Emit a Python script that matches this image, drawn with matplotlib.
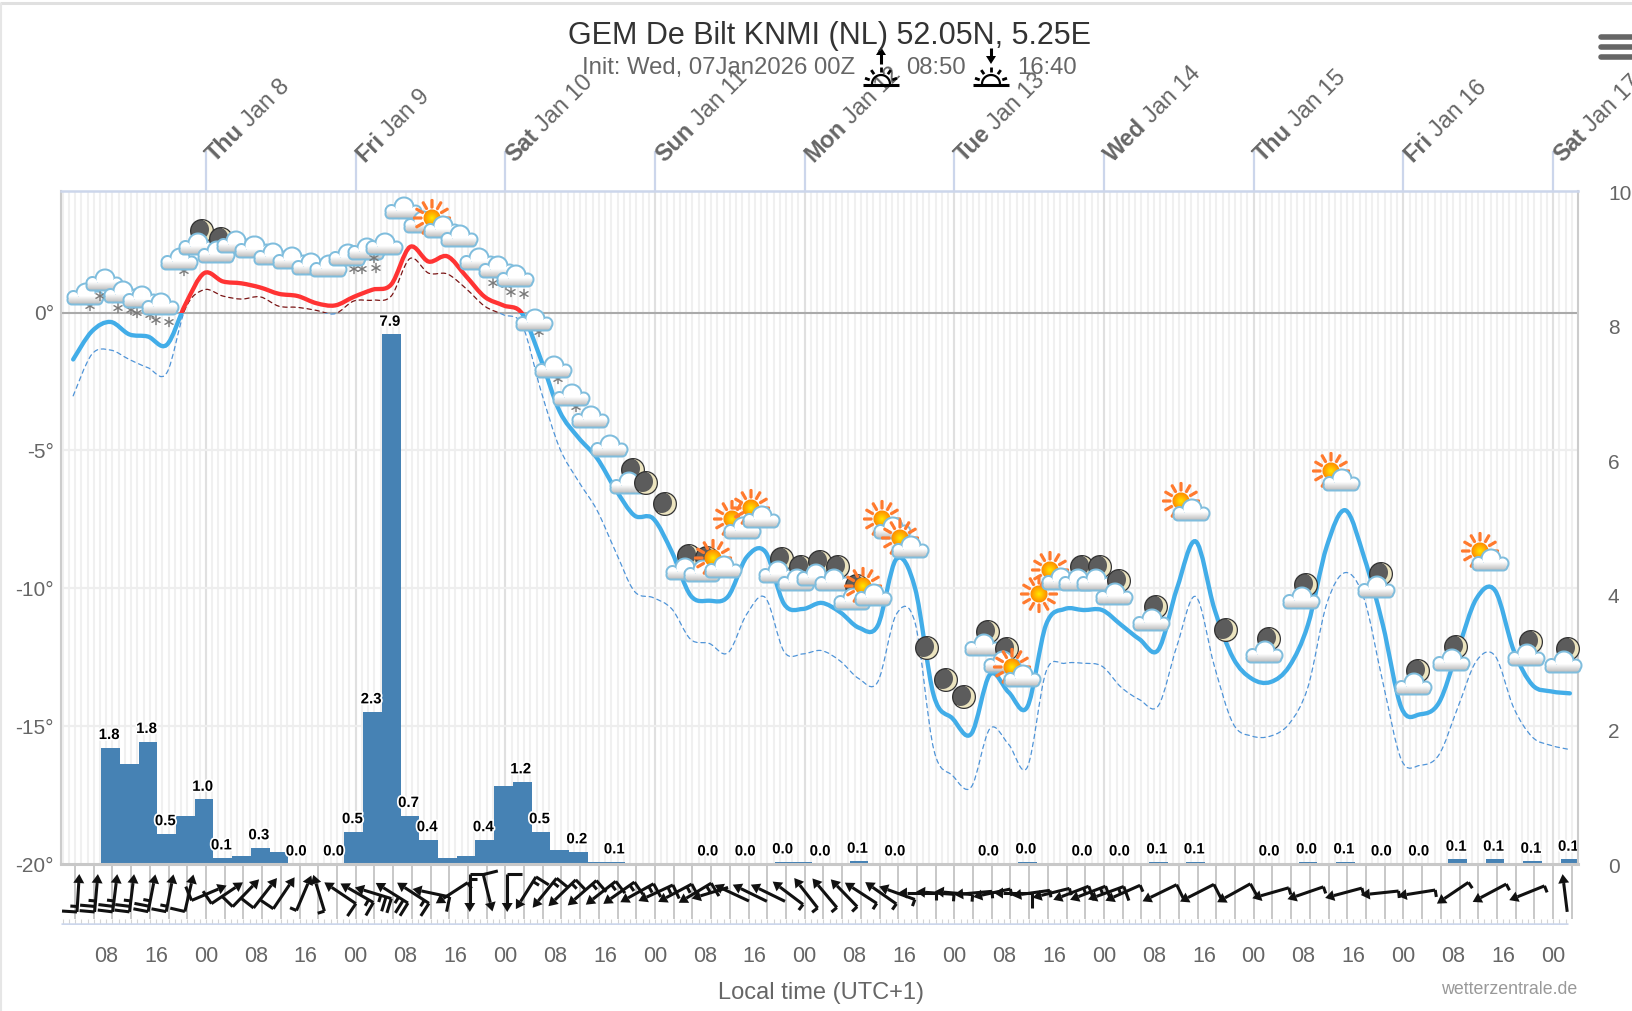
import numpy as np
import matplotlib
matplotlib.use('Agg')
import matplotlib.pyplot as plt
import matplotlib.patheffects as pe
from matplotlib.lines import Line2D
from matplotlib.patches import PathPatch, Rectangle, Polygon
from matplotlib.path import Path
from matplotlib.offsetbox import OffsetImage, AnnotationBbox

plt.rcParams['font.family'] = ['Liberation Sans', 'DejaVu Sans']

# hours are counted from Thu Jan 8 00:00 local time
T_START = -21.3
temp = [-1.7, -0.68, -0.34, -0.79, -0.87, -1.17, 0.3, 1.43, 1.13, 1.06, 0.91, 0.68, 0.6, 0.34, 0.26, 0.57, 0.83,
        1.02, 2.38, 1.85, 2.04, 1.32, 0.57, 0.26, -0.04, -1.7, -3.58, -4.53, -5.28, -6.42, -7.36, -7.47, -8.68,
        -10.26, -10.45, -10.3, -8.87, -8.68, -10.57, -10.75, -10.53, -10.87, -11.43, -11.36, -8.94, -10.0, -13.89,
        -14.72, -15.28, -13.13, -13.77, -14.3, -11.32, -10.75, -10.79, -10.79, -11.32, -11.85, -12.23, -10.0, -8.3,
        -10.75, -12.53, -13.28, -13.4, -12.83, -11.32, -8.49, -7.17, -8.87, -11.32, -14.34, -14.57, -14.15, -12.26,
        -10.38, -10.08, -12.26, -13.51, -13.74, -13.81]
dew = [-3.02, -1.51, -1.36, -1.7, -2.0, -2.19, 0.15, 0.83, 0.6, 0.49, 0.57, 0.23, 0.19, 0.08, -0.04, 0.42, 0.45,
       0.6, 1.96, 1.43, 1.4, 0.87, 0.23, -0.08, -0.45, -2.83, -4.91, -6.11, -7.17, -8.68, -10.11, -10.34, -10.75,
       -11.85, -12.0, -12.34, -10.94, -10.34, -12.3, -12.38, -12.26, -12.64, -13.28, -13.4, -10.94, -11.25, -15.85,
       -16.79, -17.21, -15.09, -15.66, -16.49, -13.02, -12.72, -12.72, -12.83, -13.58, -14.04, -14.26, -12.08, -10.3,
       -12.83, -14.91, -15.36, -15.36, -14.91, -13.58, -10.57, -9.43, -10.38, -13.4, -16.23, -16.42, -16.04, -14.34,
       -12.64, -12.45, -14.34, -15.4, -15.7, -15.85]

# 3 hourly precipitation, first bar is centred on -15.3 h
P_START = -15.3
precip = [1.73, 1.49, 1.82, 0.45, 0.72, 0.96, 0.09, 0.12, 0.24, 0.18, 0, 0, 0, 0.48, 2.26, 7.87, 0.72, 0.36, 0.09,
          0.12, 0.36, 1.16, 1.22, 0.48, 0.21, 0.18, 0.03, 0.03, 0, 0, 0, 0, 0, 0, 0, 0, 0.03, 0.03, 0, 0, 0.04, 0,
          0, 0, 0, 0, 0, 0, 0, 0.03, 0, 0, 0, 0, 0, 0, 0.03, 0, 0.03, 0, 0, 0, 0, 0, 0.03, 0, 0.03, 0, 0, 0, 0, 0,
          0.07, 0, 0.07, 0, 0.04, 0, 0.07]
label_idx = [0, 2, 3, 5, 6, 8, 10, 12, 13, 14, 15, 16, 17, 20, 22, 23, 25, 27, 32, 34, 36, 38, 40, 42, 47, 49, 52,
             54, 56, 58, 62, 64, 66, 68, 70, 72, 74, 76, 78]
label_txt = ['1.8', '1.8', '0.5', '1.0', '0.1', '0.3', '0.0', '0.0', '0.5', '2.3', '7.9', '0.7', '0.4', '0.4', '1.2',
             '0.5', '0.2', '0.1', '0.0', '0.0', '0.0', '0.0', '0.1', '0.0', '0.0', '0.0', '0.0', '0.0', '0.1', '0.1',
             '0.0', '0.0', '0.1', '0.0', '0.0', '0.1', '0.1', '0.1', '0.1']

# weather symbols, one slot every 3 h from -19.4 h
ICON_START = -19.4
icon_slot = list(range(56)) + list(range(57, 80, 2))
icon_temp = [0.64, 1.13, 0.72, 0.53, 0.26, 1.89, 2.45, 2.15, 2.53, 2.34, 2.08, 1.96, 1.74, 1.66, 2.04, 2.26, 2.45,
             3.77, 3.25, 3.09, 2.75, 1.89, 1.62, 1.28, -0.3, -2.0, -3.02, -3.81, -4.87, -6.23, -6.19, -6.94, -9.32,
             -9.4, -9.21, -7.81, -7.43, -9.43, -9.74, -9.55, -9.74, -10.42, -10.23, -7.81, -8.49, -12.15, -13.32,
             -13.96, -12.08, -12.72, -13.17, -10.19, -9.66, -9.74, -9.74, -10.26, -11.17, -7.17, -11.51, -12.34,
             -10.38, -6.08, -10.0, -13.51, -12.64, -8.98, -12.45, -12.72]
icon_kind = ['snow', 'snow2', 'snow2', 'snow2', 'snow2', 'snow', 'mooncloud', 'mooncloud', 'cloud', 'cloud', 'cloud',
             'cloud', 'cloud', 'cloud', 'snow4', 'cloud', 'snow5', 'cloud', 'cloud', 'suncloud', 'cloud', 'cloud',
             'snow2', 'snow2', 'snow', 'snow', 'snow', 'cloud', 'cloud', 'mooncloud', 'moon', 'moon', 'mooncloud',
             'mooncloud', 'suncloud', 'suncloud', 'suncloud', 'mooncloud', 'mooncloud', 'mooncloud', 'mooncloud',
             'mooncloud', 'suncloud', 'suncloud', 'suncloud', 'moon', 'moon', 'moon', 'mooncloud', 'mooncloud',
             'suncloud', 'sun', 'suncloud', 'mooncloud', 'mooncloud', 'mooncloud', 'mooncloud', 'suncloud', 'moon',
             'mooncloud', 'mooncloud', 'suncloud', 'mooncloud', 'mooncloud', 'mooncloud', 'suncloud', 'mooncloud',
             'mooncloud']

# wind arrows: time, direction the arrow points (deg from north), long and short feathers
wind_hour = [-20.5, -17.6, -14.6, -11.9, -8.7, -5.8, -2.7, 0.5, 3.4, 6.4, 9.5, 12.5, 15.7, 18.1, 21.5, 24.2, 26.8,
             29.8, 33.2, 36.1, 39.4, 42.3, 45.2, 48.3, 51.3, 54.3, 57.1, 60.3, 63.3, 66.2, 69.1, 72.1, 75.2, 78.4,
             80.8, 84.3, 87.2, 90.1, 93.3, 96.2, 99.2, 102.3, 105.0, 108.2, 110.8, 114.0, 116.9, 119.9, 123.0, 126.0,
             129.4, 132.3, 135.5, 138.7, 141.4, 144.3, 147.0, 152.9, 158.9, 164.8, 170.7, 176.3, 182.4, 188.2, 194.1,
             199.9, 205.8, 211.8, 217.9]
wind_dir = [3.5, 5, 7, 7, 11, 11, 13, 67, 56, 44, 38, 34, 23, 343, 304, 300, 287, 302, 303, 282, 237, 180, 166, 180,
            212, 219, 226, 229, 232, 235, 241, 245, 242, 239, 253, 295, 296, 296, 307, 322, 320, 316, 303, 305, 290,
            270, 274, 275, 265, 258, 270, 262, 256, 249, 249, 250, 246, 244, 243, 241, 254, 251, 255, 264, 261, 236,
            242, 248, 353]
wind_long = [1, 2, 2, 2, 2, 1, 1, 1, 1, 1, 1, 1, 0, 0, 1, 1, 2, 2, 1, 1, 0, 1, 1, 1, 1, 1, 1, 1, 1, 1, 1, 1, 1, 1, 0,
             0, 0, 0, 0, 0, 0, 0, 0, 0, 0, 0, 0, 0, 0, 0, 1, 0, 0, 1, 1, 1, 0, 1, 1, 1, 0, 0, 0, 0, 0, 0, 0, 0, 0]
wind_short = [1, 1, 1, 1, 1, 1, 0, 0, 0, 0, 0, 0, 1, 1, 0, 1, 1, 1, 1, 0, 1, 1, 0, 0, 1, 1, 1, 1, 1, 1, 1, 1, 1, 1, 0,
              0, 0, 0, 1, 1, 1, 1, 1, 1, 1, 1, 1, 1, 1, 1, 0, 1, 1, 1, 1, 1, 1, 0, 0, 0, 1, 1, 1, 1, 1, 1, 1, 1, 0]

day_labels = [('Thu', 'Jan 8'), ('Fri', 'Jan 9'), ('Sat', 'Jan 10'), ('Sun', 'Jan 11'), ('Mon', 'Jan 12'),
              ('Tue', 'Jan 13'), ('Wed', 'Jan 14'), ('Thu', 'Jan 15'), ('Fri', 'Jan 16'), ('Sat', 'Jan 17')]
temp_ticks = [-20, -15, -10, -5, 0]
rain_ticks = [0, 2, 4, 6, 8, 10]
hour_ticks = np.arange(-16, 217, 8)
hour_labels = ['%02d' % (h % 24) for h in hour_ticks]

W, H = 1632, 1011
LEFT, RIGHT, TOP, BOTTOM, WIND_BOTTOM = 61, 1578, 191, 864, 925
GREY = '#666666'


def fx(x):
    return x / W


def fy(y):
    return 1 - y / H


# ---- symbols are painted into small arrays, 1 array pixel = 1 figure pixel
SIZE = 80
yy, xx = np.mgrid[0:SIZE, 0:SIZE] + 0.5 - SIZE / 2


def over(img, rgb, alpha):
    a = np.clip(alpha, 0, 1)[..., None]
    col = np.asarray(rgb, dtype=float)
    out = img[..., 3:] + a * (1 - img[..., 3:])
    img[..., :3] = (col * a + img[..., :3] * img[..., 3:] * (1 - a)) / np.maximum(out, 1e-6)
    img[..., 3:] = out


def circle(cx, cy, r):
    return np.hypot(xx - cx, yy - cy) - r


def hexc(s):
    return np.array(matplotlib.colors.to_rgb(s))


def seg(x0, y0, x1, y1, w):
    dx, dy = x1 - x0, y1 - y0
    t = np.clip(((xx - x0) * dx + (yy - y0) * dy) / (dx * dx + dy * dy), 0, 1)
    return np.hypot(xx - x0 - t * dx, yy - y0 - t * dy) - w / 2


def paint_cloud(img, ox=0, oy=0):
    d = np.minimum.reduce([circle(ox + 1, oy - 2, 10.5), circle(ox - 11.5, oy + 2, 7), circle(ox + 12.5, oy + 2.5, 7),
                           seg(ox - 13, oy + 5, ox + 13, oy + 5, 11)])
    v = np.clip((yy - oy - 1) / 9, 0, 1)[..., None]
    fill = hexc('#ffffff') * (1 - v) + hexc('#b4b4b4') * v
    a = np.clip(0.5 - d, 0, 1)[..., None]
    edge = np.clip(d + 2.5, 0, 1)[..., None]
    col = fill * (1 - edge) + hexc('#7fbddd') * edge
    out = img[..., 3:] + a * (1 - img[..., 3:])
    img[..., :3] = (col * a + img[..., :3] * img[..., 3:] * (1 - a)) / np.maximum(out, 1e-6)
    img[..., 3:] = out


def paint_moon(img, ox=0, oy=0):
    d = circle(ox, oy, 12)
    over(img, hexc('#333333'), 0.5 - d)
    over(img, hexc('#5c5c5c'), 0.5 - circle(ox, oy, 10.7))
    cres = np.maximum(circle(ox, oy, 10.7), -circle(ox - 3.5, oy - 1.5, 10.5))
    over(img, hexc('#ece4bf'), 0.5 - cres)


def paint_sun(img, ox=0, oy=0):
    for a in np.arange(0, 2 * np.pi, 2 * np.pi / 12):
        over(img, hexc('#ff7a2e'),
             0.5 - seg(ox + 11 * np.cos(a), oy + 11 * np.sin(a), ox + 17.5 * np.cos(a), oy + 17.5 * np.sin(a), 3.2))
    r = np.hypot(xx - ox, yy - oy) / 8.5
    mix = np.clip(r, 0, 1)[..., None]
    col = hexc('#ffe600') * (1 - mix) + hexc('#ff8a00') * mix
    a = np.clip(0.5 - circle(ox, oy, 8.5), 0, 1)[..., None]
    out = img[..., 3:] + a * (1 - img[..., 3:])
    img[..., :3] = (col * a + img[..., :3] * img[..., 3:] * (1 - a)) / np.maximum(out, 1e-6)
    img[..., 3:] = out


def paint_star(img, ox, oy):
    for a in (np.pi / 2, np.pi / 6, -np.pi / 6):
        dx, dy = 4.5 * np.cos(a), 4.5 * np.sin(a)
        over(img, hexc('#777777'), 0.5 - seg(ox - dx, oy - dy, ox + dx, oy + dy, 1.4))


def make_icon(kind):
    img = np.zeros((SIZE, SIZE, 4))
    if kind == 'moon':
        paint_moon(img)
    elif kind == 'sun':
        paint_sun(img)
    elif kind == 'mooncloud':
        paint_moon(img, 5, -14)
        paint_cloud(img)
    elif kind == 'suncloud':
        paint_sun(img, -8, -9)
        paint_cloud(img, 2, 1)
    else:
        stars = {'snow': [(5, 11)], 'snow2': [(-4, 15), (9, 17)], 'snow4': [(7, 13), (15, 13)],
                 'snow5': [(-10, 13), (-8, 23)]}
        for sx, sy in stars.get(kind, []):
            paint_star(img, sx, sy)
        paint_cloud(img)
    return np.clip(img, 0, 1)


# ---- figure and axes
fig = plt.figure(figsize=(W / 100, H / 100), dpi=100, facecolor='white')
ax_rain = fig.add_axes([fx(LEFT), fy(BOTTOM), (RIGHT - LEFT) / W, (BOTTOM - TOP) / H], zorder=2)
ax = fig.add_axes([fx(LEFT), fy(BOTTOM), (RIGHT - LEFT) / W, (BOTTOM - TOP) / H], zorder=3)
ax_wind = fig.add_axes([fx(LEFT), fy(WIND_BOTTOM), (RIGHT - LEFT) / W, (WIND_BOTTOM - BOTTOM) / H], zorder=1)
ax.patch.set_visible(False)

XMIN, XMAX = -23.25, 220
PX_PER_H = (RIGHT - LEFT) / (XMAX - XMIN)
ax.set_xlim(XMIN, XMAX)
ax.set_ylim(-20, 4.41)
ax_rain.set_xlim(XMIN, XMAX)
ax_rain.set_ylim(0, 10)
ax_wind.set_xlim(XMIN, XMAX)
ax_wind.set_ylim(WIND_BOTTOM, BOTTOM)  # pixel rows of the picture

# background stripes
for h in np.arange(-23, 220):
    ax_rain.axvline(h, color='#f0f0f0', lw=1.5, zorder=0)
for h in np.arange(0, 220, 24):
    ax_rain.axvline(h, color='#e0e0e0', lw=1.5, zorder=0.1)
for t in temp_ticks[1:-1]:
    ax_rain.add_line(Line2D([0, 1], [t, t], transform=ax.get_yaxis_transform(), color='#eeeeee', lw=1.6, zorder=0.2))
ax.axhline(0, color='#aaaaaa', lw=1.5, zorder=0.3)

for s in ('left', 'right'):
    ax.spines[s].set_color('#cccccc')
    ax.spines[s].set_linewidth(1.5)
ax.spines['top'].set_color('#ccd6eb')
ax.spines['top'].set_linewidth(1.8)
ax.spines['bottom'].set_color('#c8c8c8')
ax.spines['bottom'].set_linewidth(2.2)
for s in ax_rain.spines.values():
    s.set_visible(False)

ax.set_xticks([])
ax_rain.set_xticks([])
ax.set_yticks(temp_ticks)
ax.set_yticklabels(['%d°' % t for t in temp_ticks], fontsize=15, color=GREY)
ax.tick_params(axis='y', length=0, pad=5)
ax_rain.set_yticks([])
for v in rain_ticks:
    ax_rain.annotate(str(v), (1, v), xycoords=ax_rain.get_yaxis_transform(), xytext=(21.6, -2.2),
                     textcoords='offset points', ha='left', va='center', fontsize=15, color=GREY,
                     annotation_clip=False)

# precipitation
p_x = P_START + 3 * np.arange(len(precip))
bars = ax_rain.bar(p_x, precip, width=3, color='#4682b4', linewidth=0, zorder=2)
for i, txt in zip(label_idx, label_txt):
    ax_rain.annotate(txt, (p_x[i], precip[i]), xytext=(-1, 4), textcoords='offset points', ha='center', va='bottom',
                     fontsize=10.8, fontweight='bold', color='black', zorder=3,
                     path_effects=[pe.withStroke(linewidth=2.5, foreground='white')])


def spline_path(x, y):
    # bezier through all points, tangents from the neighbours
    p = np.column_stack([x, y])
    q = np.vstack([p[0], p, p[-1]])
    verts = [p[0]]
    codes = [Path.MOVETO]
    for i in range(len(p) - 1):
        verts += [q[i + 1] + (q[i + 2] - q[i]) / 6, q[i + 2] - (q[i + 3] - q[i + 1]) / 6, q[i + 2]]
        codes += [Path.CURVE4] * 3
    return Path(verts, codes)


def zoned_line(x, y, warm, cold, lw, ls, z):
    path = spline_path(x, y)
    for color, y0, y1 in ((warm, 0, 10), (cold, -30, 0)):
        patch = PathPatch(path, fill=False, edgecolor=color, lw=lw, ls=ls, zorder=z, capstyle='round')
        ax.add_patch(patch)
        patch.set_clip_path(Rectangle((XMIN, y0), XMAX - XMIN, y1 - y0, transform=ax.transData))


t_x = T_START + 3 * np.arange(len(temp))
zoned_line(t_x, dew, '#7a1414', '#4f94d8', 0.9, (0, (3.5, 3)), 4)
zoned_line(t_x, temp, '#ff3333', '#42ade8', 3.1, '-', 5)

# weather symbols
icons = {k: make_icon(k) for k in set(icon_kind)}
for n, (slot, t, kind) in enumerate(zip(icon_slot, icon_temp, icon_kind)):
    box = AnnotationBbox(OffsetImage(icons[kind], zoom=1, dpi_cor=False, interpolation='nearest'),
                         (ICON_START + 3 * slot, t), xycoords='data', frameon=False, pad=0,
                         box_alignment=(0.5, 0.5), annotation_clip=False, zorder=6 + n * 0.01)
    ax.add_artist(box)

# wind panel
ax_wind.axis('off')
ax_wind.vlines(np.arange(-21, 220, 3), BOTTOM, 919, color='#c8c8c8', lw=1.4, zorder=1)
ax_wind.vlines(np.arange(-23, 219), 919.5, WIND_BOTTOM, color='#d4d4d4', lw=0.8, zorder=1)
ax_wind.hlines(WIND_BOTTOM - 1, XMIN, 218.4, color='#ccd6eb', lw=1.8, zorder=1)

ROW = 893
SHAFT = 19
for h, d, nl, ns in zip(wind_hour, wind_dir, wind_long, wind_short):
    a = np.radians(d)
    ux, uy = np.sin(a), -np.cos(a)  # points along the arrow, rows grow downwards
    lx, ly = -np.cos(a), -np.sin(a)  # feathers go to the left of the arrow
    cx = h * PX_PER_H  # work in pixels, divide back when plotting
    tail = np.array([cx - ux * SHAFT, ROW - uy * SHAFT])
    tip = np.array([cx + ux * SHAFT, ROW + uy * SHAFT])
    neck = tip - np.array([ux, uy]) * 9
    ax_wind.plot([tail[0] / PX_PER_H, neck[0] / PX_PER_H], [tail[1], neck[1]], color='#111111', lw=2.2,
                 solid_capstyle='butt', zorder=3, clip_on=False)
    head = [tip, neck + 5.5 * np.array([lx, ly]), neck - 5.5 * np.array([lx, ly])]
    ax_wind.add_patch(Polygon([(p[0] / PX_PER_H, p[1]) for p in head], closed=True, color='#111111', lw=0, zorder=3,
                              clip_on=False))
    for k in range(nl + ns):
        base = tail + np.array([ux, uy]) * 5.5 * k
        size = 15 if k < nl else 7
        end = base + np.array([lx, ly]) * size
        ax_wind.plot([base[0] / PX_PER_H, end[0] / PX_PER_H], [base[1], end[1]], color='#111111', lw=2.2,
                     solid_capstyle='butt', zorder=3, clip_on=False)

for h, txt in zip(hour_ticks, hour_labels):
    fig.text(fx(LEFT + (h - XMIN) * PX_PER_H), fy(956), txt, ha='center', va='center', fontsize=15.5, color=GREY)

# day ticks above the plot, labels in two weights
renderer = fig.canvas.get_renderer()
for i, (day, date) in enumerate(day_labels):
    x = LEFT + (i * 24 - XMIN) * PX_PER_H
    fig.add_artist(Line2D([fx(x), fx(x)], [fy(TOP), fy(152)], color='#ccd6eb', lw=1.6, zorder=1))
    x0, y0 = x + 9, 163
    t1 = fig.text(fx(x0), fy(y0), day, fontsize=16.8, fontweight='bold', color=GREY, ha='left',
                  va='baseline', rotation_mode='anchor', zorder=1)
    w = t1.get_window_extent(renderer).width
    t1.set_rotation(45)
    off = (w + 6) * np.sqrt(0.5)
    fig.text(fx(x0 + off), fy(y0 - off), date, fontsize=16.8, color=GREY, rotation=45, ha='left', va='baseline',
             rotation_mode='anchor', zorder=1)

# header
fig.text(fx(829), fy(36), 'GEM De Bilt KNMI (NL) 52.05N, 5.25E', ha='center', va='center', fontsize=22, color='#333333')
fig.text(fx(582), fy(68), 'Init: Wed, 07Jan2026 00Z', ha='left', va='center', fontsize=17.2, color=GREY)
fig.text(fx(906), fy(68), '08:50', ha='left', va='center', fontsize=17.2, color=GREY)
fig.text(fx(1017), fy(68), '16:40', ha='left', va='center', fontsize=17.2, color=GREY)


def px_line(xs, ys, lw=2.0, color='black', z=2):
    fig.add_artist(Line2D([fx(v) for v in xs], [fy(v) for v in ys], color=color, lw=lw, zorder=z,
                          solid_capstyle='butt'))


def sun_symbol(cx, up):
    base = 85
    px_line([cx - 18, cx + 18], [base, base], lw=2.2)
    th = np.linspace(0, np.pi, 30)
    px_line(cx + 9 * np.cos(th), base - 1 - 9 * np.sin(th), lw=1.6)
    for a in np.radians([20, 55, 90, 125, 160]):
        px_line([cx + 12 * np.cos(a), cx + 17 * np.cos(a)], [base - 1 - 12 * np.sin(a), base - 1 - 17 * np.sin(a)], lw=2)
    if up:
        px_line([cx, cx], [53, 64], lw=2.2)
        fig.add_artist(Polygon([(fx(cx), fy(47)), (fx(cx - 5), fy(55)), (fx(cx + 5), fy(55))], closed=True, color='black',
                               lw=0, zorder=2))
    else:
        px_line([cx, cx], [48, 58], lw=2.2)
        fig.add_artist(Polygon([(fx(cx), fy(64)), (fx(cx - 5), fy(56)), (fx(cx + 5), fy(56))], closed=True, color='black',
                               lw=0, zorder=2))


sun_symbol(881, True)
sun_symbol(991, False)

# footer and menu button
fig.text(fx(821), fy(993), 'Local time (UTC+1)', ha='center', va='center', fontsize=17, color=GREY)
fig.text(fx(1577), fy(990), 'wetterzentrale.de', ha='right', va='center', fontsize=12.8, color='#999999')
for y in (37, 47, 57):
    fig.add_artist(Line2D([fx(1601), fx(1632)], [fy(y), fy(y)], color=GREY, lw=4, solid_capstyle='round'))
px_line([0, W], [3, 3], lw=2.2, color='#e0e0e0')
px_line([1, 1], [3, H], lw=1.5, color='#e6e6e6')

fig.savefig('out.png', dpi=100, facecolor='white')
